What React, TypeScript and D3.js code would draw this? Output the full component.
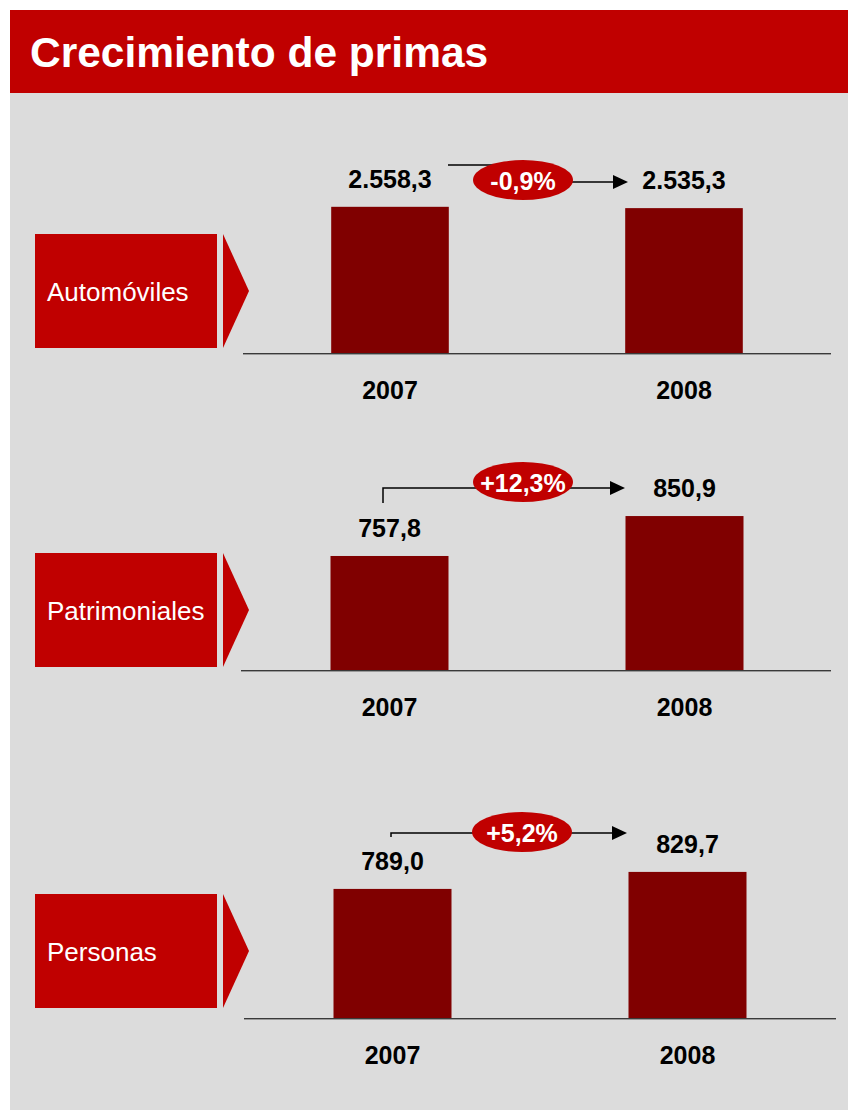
import React from "react";
import * as d3 from "d3";

// ---- data ----
const title = "Crecimiento de primas";
const categories = ["Automóviles", "Patrimoniales", "Personas"];
const years = ["2007", "2008"];
const values2007 = [2558.3, 757.8, 789.0];
const values2008 = [2535.3, 850.9, 829.7];
const growthLabels = ["-0,9%", "+12,3%", "+5,2%"];
// value axis domain of each (axis-less) panel
const valueDomains: [number, number][] = [
  [0, 2800],
  [492, 865],
  [480, 863],
];

// ---- layout ----
const W = 848;
const H = 1110;
const FONT = "'Liberation Sans', Arial, Helvetica, sans-serif";
const RED = "#C00000";
const BAR = "#800000";
const BG = "#DCDCDC";
const PLOT_H = 160;

const panels = [
  { axisY: 353, xRange: [243, 831], axis: [243, 831], boxTop: 234, annot: { start: [448, 165], stepX: 500, lineY: 182, tip: 628, ell: [523, 180] } },
  { axisY: 670, xRange: [242, 832], axis: [241, 831], boxTop: 553, annot: { start: [383, 503], stepX: 383, lineY: 488, tip: 625, ell: [523, 482] } },
  { axisY: 1018, xRange: [245, 835], axis: [244, 836], boxTop: 894, annot: { start: [391, 837], stepX: 391, lineY: 833, tip: 627, ell: [522, 832] } },
];

function fmt(v: number): string {
  const s = v.toFixed(1);
  const [int, dec] = s.split(".");
  const intF = int.replace(/\B(?=(\d{3})+(?!\d))/g, ".");
  return `${intF},${dec}`;
}

export default function App() {
  return (
    <svg
      width={W}
      height={H}
      style={{ position: "absolute", left: 0, top: 0, display: "block" }}
      fontFamily={FONT}
    >
      <rect x={0} y={0} width={W} height={H} fill="#ffffff" />
      <rect x={10} y={93} width={W - 10} height={H - 93} fill={BG} />
      <rect x={10} y={10} width={W - 10} height={83} fill={RED} />
      <text x={30} y={67} fill="#fff" fontSize={42.5} fontWeight="bold">
        {title}
      </text>

      {categories.map((cat, i) => {
        const p = panels[i];
        const x = d3
          .scaleBand<string>()
          .domain(years)
          .range(p.xRange as [number, number])
          .paddingInner(0.6)
          .paddingOuter(0.3);
        const y = d3
          .scaleLinear()
          .domain(valueDomains[i])
          .range([p.axisY, p.axisY - PLOT_H]);
        const vals = [values2007[i], values2008[i]];
        const a = p.annot;
        const path = d3.path();
        path.moveTo(a.start[0], a.start[1]);
        if (a.stepX !== a.start[0]) path.lineTo(a.stepX, a.start[1]);
        path.lineTo(a.stepX, a.lineY);
        path.lineTo(a.tip - 14, a.lineY);
        const boxH = 114;
        return (
          <g key={cat}>
            {/* category label box */}
            <rect x={35} y={p.boxTop} width={182} height={boxH} fill={RED} />
            <path
              d={`M223,${p.boxTop} L249,${p.boxTop + boxH / 2} L223,${p.boxTop + boxH} Z`}
              fill={RED}
            />
            <text x={47} y={p.boxTop + 67} fill="#fff" fontSize={26}>
              {cat}
            </text>

            {/* bars */}
            {years.map((yr, j) => (
              <g key={yr}>
                <rect
                  x={x(yr)}
                  y={y(vals[j])}
                  width={x.bandwidth()}
                  height={p.axisY - y(vals[j])}
                  fill={BAR}
                />
                <text
                  x={(x(yr) as number) + x.bandwidth() / 2}
                  y={y(vals[j]) - 19}
                  textAnchor="middle"
                  fontSize={25}
                  fontWeight="bold"
                  fill="#000"
                >
                  {fmt(vals[j])}
                </text>
                <text
                  x={(x(yr) as number) + x.bandwidth() / 2}
                  y={p.axisY + 46}
                  textAnchor="middle"
                  fontSize={25}
                  fontWeight="bold"
                  fill="#000"
                >
                  {yr}
                </text>
              </g>
            ))}

            {/* baseline */}
            <line x1={p.axis[0]} x2={p.axis[1]} y1={p.axisY + 1.5} y2={p.axisY + 1.5} stroke="#9a9a9a" strokeWidth={1} />
            <line x1={p.axis[0]} x2={p.axis[1]} y1={p.axisY + 0.5} y2={p.axisY + 0.5} stroke="#3a3a3a" strokeWidth={1.2} />

            {/* growth annotation */}
            <path d={path.toString()} fill="none" stroke="#000" strokeWidth={1.5} />
            <path
              d={`M${a.tip - 15},${a.lineY - 7} L${a.tip},${a.lineY} L${a.tip - 15},${a.lineY + 7} Z`}
              fill="#000"
            />
            <ellipse cx={a.ell[0]} cy={a.ell[1]} rx={50} ry={20} fill={RED} />
            <text
              x={a.ell[0]}
              y={a.ell[1] + 9.5}
              textAnchor="middle"
              fontSize={25}
              fontWeight="bold"
              fill="#fff"
            >
              {growthLabels[i]}
            </text>
          </g>
        );
      })}
    </svg>
  );
}
